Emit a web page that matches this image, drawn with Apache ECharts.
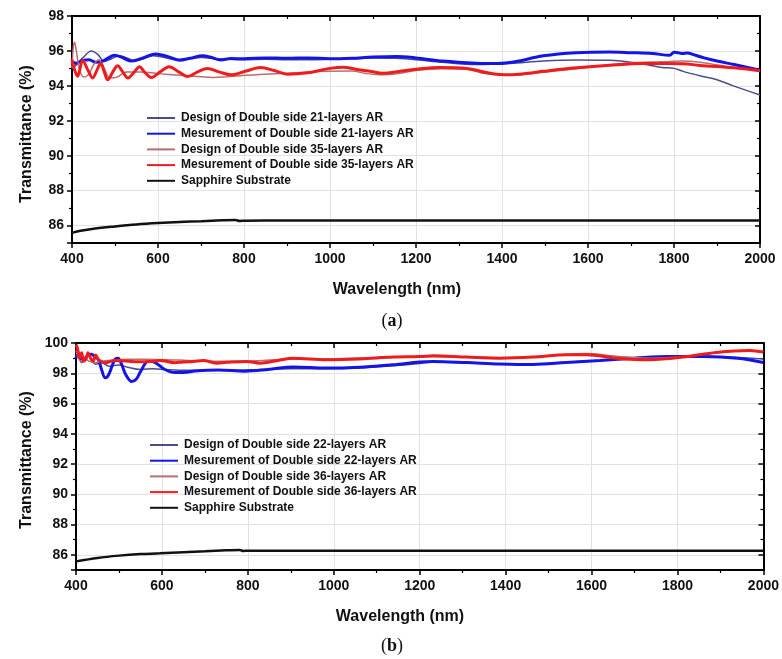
<!DOCTYPE html>
<html>
<head>
<meta charset="utf-8">
<script src="https://cdn.jsdelivr.net/npm/echarts@6/dist/echarts.min.js"></script>
<style>html,body{margin:0;padding:0;background:#fff}#c{width:782px;height:659px}</style>
</head>
<body>
<div id="c"></div>
<script>
// ---------- Panel (a) data: [wavelength nm, transmittance %] ----------
const aDesign21 = [[400,95.0],[410,95.2],[425,95.6],[445,96.0],[460,95.8],[475,95.4],[492,95.55],[510,95.73],[528,95.6],[545,95.43],[565,95.55],[587,95.72],[610,95.65],[640,95.5],[670,95.55],[700,95.62],[740,95.55],[800,95.5],[850,95.52],[900,95.5],[950,95.5],[1000,95.52],[1050,95.55],[1100,95.6],[1150,95.58],[1200,95.5],[1260,95.35],[1340,95.22],[1418,95.28],[1496,95.42],[1573,95.48],[1651,95.46],[1700,95.35],[1740,95.2],[1772,95.05],[1800,95.0],[1821,94.83],[1860,94.58],[1900,94.35],[1938,94.0],[2000,93.48]];
const aMeas21 = [[400,95.35],[410,95.3],[425,95.45],[440,95.5],[455,95.35],[470,95.4],[485,95.6],[498,95.75],[515,95.65],[537,95.42],[560,95.55],[595,95.83],[620,95.7],[650,95.47],[675,95.58],[704,95.72],[725,95.62],[745,95.48],[770,95.56],[800,95.55],[850,95.6],[900,95.58],[950,95.6],[1000,95.55],[1050,95.58],[1100,95.65],[1155,95.68],[1200,95.6],[1262,95.42],[1340,95.3],[1390,95.28],[1430,95.38],[1496,95.72],[1573,95.9],[1650,95.94],[1700,95.9],[1750,95.85],[1790,95.75],[1800,95.92],[1810,95.9],[1820,95.85],[1830,95.88],[1850,95.75],[1870,95.6],[1900,95.42],[1940,95.22],[2000,94.89]];
const aDesign35 = [[400,95.0],[403,96.2],[406,96.5],[410,96.0],[418,94.9],[428,94.5],[440,94.7],[450,95.2],[462,95.5],[475,95.0],[488,94.45],[505,94.5],[526,94.8],[560,94.8],[600,94.7],[650,94.6],[700,94.52],[728,94.48],[760,94.52],[805,94.6],[860,94.68],[913,94.73],[992,94.84],[1050,94.85],[1085,94.7],[1124,94.63],[1160,94.7],[1200,94.88],[1260,94.98],[1318,94.95],[1360,94.7],[1418,94.6],[1496,94.78],[1573,94.98],[1651,95.2],[1700,95.32],[1772,95.38],[1821,95.42],[1860,95.35],[1938,95.05],[2000,94.87]];
const aMeas35 = [[400,95.5],[405,95.0],[413,94.55],[425,95.45],[437,94.9],[448,94.45],[458,94.9],[467,95.3],[475,94.8],[483,94.35],[495,94.8],[506,95.15],[518,94.8],[530,94.45],[545,94.8],[557,95.1],[570,94.75],[584,94.48],[605,94.8],[626,95.1],[648,94.8],[669,94.53],[692,94.8],[715,95.0],[742,94.8],[770,94.63],[805,94.85],[839,95.05],[870,94.88],[901,94.67],[948,94.75],[1000,95.0],[1030,95.07],[1060,94.95],[1090,94.85],[1124,94.72],[1160,94.82],[1200,94.95],[1256,95.05],[1318,95.0],[1360,94.78],[1395,94.65],[1418,94.64],[1460,94.72],[1496,94.83],[1573,95.03],[1651,95.18],[1728,95.28],[1821,95.27],[1860,95.17],[1938,95.03],[2000,94.87]];
const aSapphire = [[400,85.58],[420,85.7],[450,85.82],[500,85.95],[550,86.06],[600,86.14],[650,86.2],[700,86.25],[750,86.3],[780,86.32],[790,86.26],[800,86.28],[900,86.29],[1000,86.29],[1200,86.29],[1400,86.29],[1600,86.29],[1800,86.29],[2000,86.29]];

// ---------- Panel (b) data ----------
const bDesign22 = [[400,99.6],[406,99.3],[413,98.7],[420,98.9],[428,99.2],[436,98.9],[445,98.6],[460,98.7],[477,98.47],[500,98.55],[520,98.4],[550,98.25],[580,98.3],[607,98.25],[640,98.2],[700,98.2],[760,98.2],[830,98.25],[905,98.3],[983,98.3],[1061,98.35],[1138,98.5],[1200,98.65],[1231,98.75],[1309,98.7],[1386,98.62],[1464,98.6],[1541,98.72],[1620,98.85],[1700,98.95],[1780,99.05],[1860,99.1],[1940,99.05],[2000,98.95]];
const bMeas22 = [[400,99.0],[405,99.36],[412,98.9],[421,99.0],[428,99.2],[436,99.25],[444,99.1],[452,98.9],[460,98.2],[468,97.7],[476,97.9],[490,98.9],[498,99.0],[506,98.6],[516,97.9],[530,97.45],[540,97.6],[550,98.1],[565,98.75],[575,98.8],[590,98.6],[607,98.25],[630,98.05],[650,98.05],[677,98.15],[731,98.22],[793,98.14],[847,98.25],[905,98.42],[983,98.34],[1061,98.4],[1138,98.56],[1200,98.75],[1231,98.78],[1309,98.71],[1386,98.62],[1464,98.58],[1541,98.71],[1620,98.85],[1700,99.0],[1780,99.11],[1860,99.11],[1940,99.0],[2000,98.71]];
const bDesign36 = [[400,99.5],[406,99.0],[412,98.8],[420,99.0],[430,98.8],[445,98.7],[460,98.8],[477,98.85],[520,98.92],[560,98.92],[610,98.9],[660,98.85],[720,98.8],[800,98.8],[900,98.95],[1000,98.95],[1100,99.05],[1200,99.1],[1300,99.08],[1400,99.02],[1500,99.15],[1588,99.3],[1658,99.12],[1735,99.0],[1813,99.1],[1890,99.35],[1968,99.5],[2000,99.45]];
const bMeas36 = [[400,99.9],[404,99.6],[408,99.0],[413,99.35],[418,98.8],[424,99.0],[428,99.36],[434,99.0],[440,98.8],[446,99.2],[452,98.9],[468,98.7],[490,98.85],[540,98.76],[583,98.8],[595,98.85],[630,98.7],[650,98.75],[673,98.78],[696,98.85],[727,98.67],[750,98.72],[797,98.78],[828,98.67],[870,98.85],[905,99.0],[983,98.9],[1061,98.95],[1138,99.07],[1200,99.1],[1231,99.16],[1309,99.07],[1386,99.0],[1464,99.07],[1541,99.23],[1588,99.23],[1658,99.0],[1735,98.9],[1813,99.07],[1890,99.38],[1968,99.51],[2000,99.4]];
const bSapphire = [[400,85.57],[450,85.8],[500,85.95],[550,86.05],[595,86.1],[650,86.18],[700,86.24],[750,86.3],[781,86.32],[790,86.26],[800,86.28],[1000,86.28],[1200,86.28],[1400,86.28],[1600,86.28],[1800,86.28],[2000,86.28]];

const aNames = ['Design of Double side 21-layers AR','Mesurement of Double side 21-layers AR','Design of Double side 35-layers AR','Mesurement of Double side 35-layers AR','Sapphire Substrate'];
const bNames = ['Design of Double side 22-layers AR','Mesurement of Double side 22-layers AR','Design of Double side 36-layers AR','Mesurement of Double side 36-layers AR','Sapphire Substrate '];
const xName = 'Wavelength (nm)';
const yName = 'Transmittance (%)';

const colors = ['#4a4c8e', '#1414e6', '#b86e6e', '#ee1c1c', '#111111'];
const widths = [1.5, 3, 1.5, 3, 2.5];

const FONT = 'Liberation Sans, Arial, sans-serif';
const axisLine = {show: true, onZero: false, lineStyle: {color: '#000', width: 2}};

function bottomX(gi) {
  return {type: 'value', gridIndex: gi, min: 400, max: 2000, interval: 200, position: 'bottom',
    axisLine, axisTick: {show: true, inside: false, length: 5, lineStyle: {color: '#000', width: 1.5}},
    minorTick: {show: true, splitNumber: 2, length: 3, lineStyle: {color: '#000', width: 1.2}},
    axisLabel: {color: '#111', fontFamily: FONT, fontWeight: 'bold', fontSize: 14, margin: 9, formatter: v => String(v)},
    splitLine: {show: true, lineStyle: {color: '#e2e2e2', width: 1}}};
}
function topX(gi) {
  return {type: 'value', gridIndex: gi, min: 400, max: 2000, interval: 200, position: 'top',
    axisLine, axisTick: {show: true, inside: true, length: 5, lineStyle: {color: '#000', width: 1.5}},
    minorTick: {show: true, splitNumber: 2, length: 3, lineStyle: {color: '#000', width: 1.2}},
    axisLabel: {show: false}, splitLine: {show: false}};
}
function leftY(gi, mn, mx) {
  return {type: 'value', gridIndex: gi, min: mn, max: mx, splitNumber: 7, position: 'left',
    axisLine, axisTick: {show: true, inside: false, length: 5, lineStyle: {color: '#000', width: 1.5}},
    minorTick: {show: true, splitNumber: 2, length: 3, lineStyle: {color: '#000', width: 1.2}},
    axisLabel: {color: '#111', fontFamily: FONT, fontWeight: 'bold', fontSize: 14, margin: 8, showMinLabel: false},
    splitLine: {show: true, lineStyle: {color: '#e2e2e2', width: 1}}};
}
function rightY(gi, mn, mx) {
  return {type: 'value', gridIndex: gi, min: mn, max: mx, splitNumber: 7, position: 'right',
    axisLine, axisTick: {show: true, inside: true, length: 5, lineStyle: {color: '#000', width: 1.5}},
    minorTick: {show: true, splitNumber: 2, length: 3, lineStyle: {color: '#000', width: 1.2}},
    axisLabel: {show: false}, splitLine: {show: false}};
}

function mkSeries(names, datas, axisIdx) {
  return names.map((n, i) => ({
    name: n, type: 'line', data: datas[i], xAxisIndex: axisIdx, yAxisIndex: axisIdx,
    symbol: 'none', smooth: 0.35, animation: false,
    lineStyle: {color: colors[i], width: widths[i]}, itemStyle: {color: colors[i]}
  }));
}

function mkLegend(names, left, top) {
  return {data: names, orient: 'vertical', left, top, itemWidth: 28, itemHeight: 12, itemGap: 3.7,
    padding: 0, selectedMode: false, itemStyle: {opacity: 0},
    textStyle: {color: '#111', fontFamily: FONT, fontWeight: 'bold', fontSize: 12, padding: [0, 0, 0, 1]}};
}

const chart = echarts.init(document.getElementById('c'), null, {renderer: 'canvas'});
chart.setOption({
  backgroundColor: '#fff',
  animation: false,
  grid: [
    {left: 72, right: 22, top: 16, height: 227, containLabel: false},
    {left: 76, right: 17, top: 343, height: 227, containLabel: false}
  ],
  xAxis: [bottomX(0), bottomX(1), topX(0), topX(1)],
  yAxis: [leftY(0, 85, 98), leftY(1, 85, 100), rightY(0, 85, 98), rightY(1, 85, 100)],
  legend: [mkLegend(aNames, 146, 112), mkLegend(bNames, 149, 439)],
  series: [...mkSeries(aNames, [aDesign21, aMeas21, aDesign35, aMeas35, aSapphire], 0),
           ...mkSeries(bNames, [bDesign22, bMeas22, bDesign36, bMeas36, bSapphire], 1)],
  graphic: [
    {type: 'text', x: 397, y: 290, style: {text: xName, font: 'bold 16px ' + FONT, fill: '#111', align: 'center', verticalAlign: 'middle'}},
    {type: 'text', x: 400, y: 617, style: {text: xName, font: 'bold 16px ' + FONT, fill: '#111', align: 'center', verticalAlign: 'middle'}},
    {type: 'text', x: 27, y: 134, rotation: Math.PI / 2, style: {text: yName, font: 'bold 16px ' + FONT, fill: '#111', align: 'center', verticalAlign: 'middle'}},
    {type: 'text', x: 27, y: 460, rotation: Math.PI / 2, style: {text: yName, font: 'bold 16px ' + FONT, fill: '#111', align: 'center', verticalAlign: 'middle'}},
    {type: 'text', x: 392, y: 321, style: {rich: {p: {font: '18px Liberation Serif, Times New Roman, serif', fill: '#111'}, b: {font: 'bold 18px Liberation Serif, Times New Roman, serif', fill: '#111'}}, text: '{p|(}{b|a}{p|)}', align: 'center', verticalAlign: 'middle'}},
    {type: 'text', x: 392, y: 646, style: {rich: {p: {font: '18px Liberation Serif, Times New Roman, serif', fill: '#111'}, b: {font: 'bold 18px Liberation Serif, Times New Roman, serif', fill: '#111'}}, text: '{p|(}{b|b}{p|)}', align: 'center', verticalAlign: 'middle'}}
  ]
});
</script>
</body>
</html>
